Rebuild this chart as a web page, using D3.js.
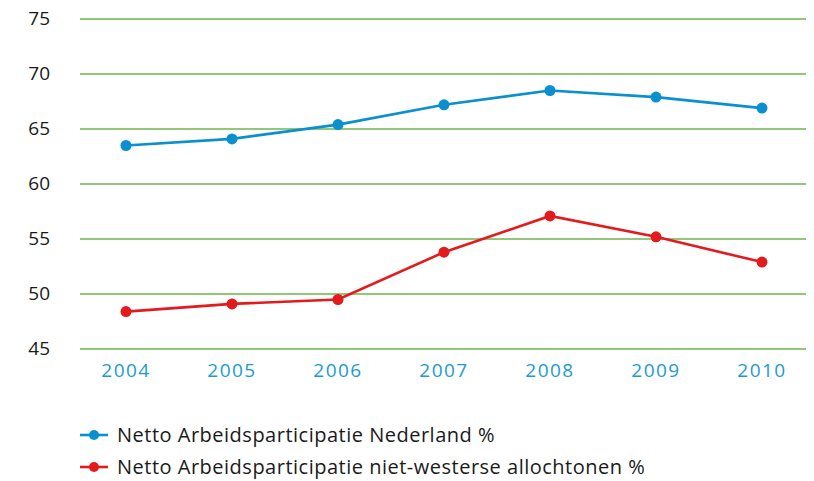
<!DOCTYPE html>
<html>
  <head>
    <meta charset="utf-8">
    <title>Netto arbeidsparticipatie</title>
    <script src="https://d3js.org/d3.v7.min.js"></script>
    <style>
      body { margin: 0; background: #fff; }
      svg { display: block; font-family: "Open Sans", sans-serif; }
    </style>
  </head>
  <body>
    <svg id="chart" width="814" height="481"></svg>
    <script>
      // data
      years = ["2004", "2005", "2006", "2007", "2008", "2009", "2010"];
      nederland = [63.5, 64.1, 65.4, 67.2, 68.5, 67.9, 66.9];
      allochtonen = [48.4, 49.1, 49.5, 53.8, 57.1, 55.2, 52.9];
      yTicks = [45, 50, 55, 60, 65, 70, 75];
      seriesNames = ["Netto Arbeidsparticipatie Nederland %", "Netto Arbeidsparticipatie niet-westerse allochtonen %"];
      seriesColors = ["#0a8fcf", "#e31b1d"];

      svg = d3.select("#chart");
      x = d3.scalePoint().domain(years).range([126, 762]);
      y = d3.scaleLinear().domain([45, 75]).range([349, 19]);

      // gridlines
      svg.selectAll(".grid")
        .data(yTicks)
        .enter().append("line")
          .attr("x1", 80).attr("x2", 806)
          .attr("y1", function(d) { return y(d); })
          .attr("y2", function(d) { return y(d); })
          .attr("stroke", "#6cb448")
          .attr("stroke-width", 1.6);
      // y labels
      svg.selectAll(".ylab")
        .data(yTicks)
        .enter().append("text")
          .attr("x", 50)
          .attr("y", function(d) { return y(d) + 6; })
          .attr("text-anchor", "end")
          .attr("font-size", 19)
          .attr("fill", "#1a1a1a")
          .text(function(d) { return d; });
      // x labels
      svg.selectAll(".xlab")
        .data(years)
        .enter().append("text")
          .attr("x", function(d) { return x(d); })
          .attr("y", 377)
          .attr("text-anchor", "middle")
          .attr("font-size", 19)
          .attr("letter-spacing", 1.5)
          .attr("fill", "#1b9ad7")
          .text(function(d) { return d; });

      // series
      line = d3.line()
        .x(function(d, i) { return x(years[i]); })
        .y(function(d) { return y(d); });
      [nederland, allochtonen].forEach(function(values, s) {
        svg.append("path")
          .attr("d", line(values))
          .attr("fill", "none")
          .attr("stroke", seriesColors[s])
          .attr("stroke-width", 2.6);
        svg.selectAll(".dot" + s)
          .data(values)
          .enter().append("circle")
            .attr("cx", function(d, i) { return x(years[i]); })
            .attr("cy", function(d) { return y(d); })
            .attr("r", 5.5)
            .attr("fill", seriesColors[s]);
      });

      // legend
      legend = svg.selectAll(".legend")
        .data(seriesNames)
        .enter().append("g")
          .attr("transform", function(d, i) { return "translate(80," + (435 + i * 32) + ")"; });
      legend.append("line")
        .attr("x1", 0).attr("x2", 28)
        .attr("stroke", function(d, i) { return seriesColors[i]; })
        .attr("stroke-width", 2.6);
      legend.append("circle")
        .attr("cx", 14).attr("r", 5)
        .attr("fill", function(d, i) { return seriesColors[i]; });
      legend.append("text")
        .attr("x", 37).attr("y", 7)
        .attr("font-size", 20)
        .attr("letter-spacing", 0.5)
        .attr("fill", "#1a1a1a")
        .text(function(d) { return d; });
    </script>
  </body>
</html>
